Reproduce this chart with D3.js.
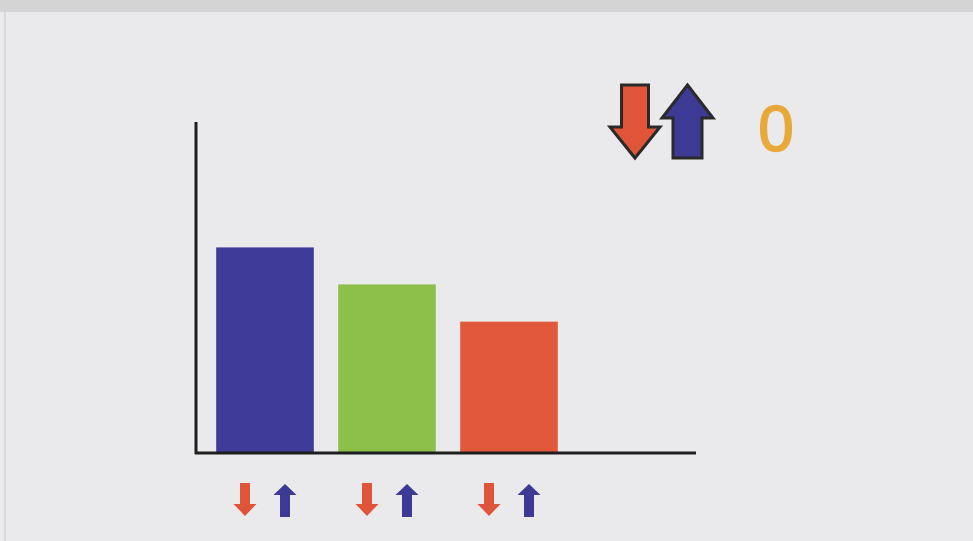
<!DOCTYPE html>
<html lang="en">
<head>
<meta charset="utf-8">
<title>Bars with arrows</title>
<script src="https://d3js.org/d3.v7.min.js"></script>
<style>
  html, body { margin: 0; padding: 0; background: #eaeaed; }
  svg { display: block; }
</style>
</head>
<body>
<svg id="chart" width="973" height="541"></svg>
<script>
// data
var categories = ["A", "B", "C"];
var values = [62, 50.8, 39.5];
var barColors = ["#3f3b98", "#8dc04b", "#e1593a"];
var legendText = "0";

var svg = d3.select("#chart");
var W = 973, H = 541;

// paper background with scanned top edge
svg.append("rect").attr("width", W).attr("height", H).attr("fill", "#eaeaed");
svg.append("rect").attr("width", W).attr("height", 12).attr("fill", "#d4d4d4");
svg.append("line").attr("x1", 5).attr("x2", 5).attr("y1", 12).attr("y2", H)
  .attr("stroke", "#d8d8da").attr("stroke-width", 2);

var x = d3.scaleBand()
  .domain(categories)
  .range([204, 570])
  .paddingInner(0.2)
  .paddingOuter(0.1);

var y = d3.scaleLinear()
  .domain([0, 100])
  .range([452, 122]);

// bars
svg.selectAll("rect.bar")
  .data(values)
  .enter().append("rect")
    .attr("class", "bar")
    .attr("x", function(d, i) { return x(categories[i]); })
    .attr("y", function(d) { return y(d); })
    .attr("width", x.bandwidth())
    .attr("height", function(d) { return y(0) - y(d); })
    .attr("fill", function(d, i) { return barColors[i]; });

// axes: plain lines, no ticks
var axisX0 = 196;
svg.append("line")
  .attr("x1", axisX0).attr("x2", axisX0)
  .attr("y1", y(100)).attr("y2", y(0) + 2)
  .attr("stroke", "#1e1e1e").attr("stroke-width", 3);
svg.append("line")
  .attr("x1", axisX0 - 1).attr("x2", 696)
  .attr("y1", y(0) + 1).attr("y2", y(0) + 1)
  .attr("stroke", "#1e1e1e").attr("stroke-width", 3);

// arrow shape: cx, tip y, tail y, head width, shaft width, head length
function arrow(cx, tip, tail, hw, sw, hl) {
  var dir = tail > tip ? 1 : -1;  // 1 = pointing up
  var hb = tip + dir * hl;
  var p = d3.path();
  p.moveTo(cx, tip);
  p.lineTo(cx + hw / 2, hb);
  p.lineTo(cx + sw / 2, hb);
  p.lineTo(cx + sw / 2, tail);
  p.lineTo(cx - sw / 2, tail);
  p.lineTo(cx - sw / 2, hb);
  p.lineTo(cx - hw / 2, hb);
  p.closePath();
  return p.toString();
}

// small arrows under each bar
var arrowRed = "#e0553a", arrowBlue = "#3c3a95";
var under = svg.append("g");
categories.forEach(function(c) {
  var cx = x(c) + x.bandwidth() / 2;
  under.append("path")
    .attr("d", arrow(cx - 20, 516, 483, 23, 10, 12))
    .attr("fill", arrowRed);
  under.append("path")
    .attr("d", arrow(cx + 20, 484, 517, 23, 10, 11))
    .attr("fill", arrowBlue);
});

// big arrows top right
var legend = svg.append("g");
legend.append("path")
  .attr("d", arrow(635, 158, 85, 50, 27, 31))
  .attr("fill", arrowRed)
  .attr("stroke", "#2a2a2a").attr("stroke-width", 3).attr("stroke-linejoin", "miter");
legend.append("path")
  .attr("d", arrow(687.5, 85, 158, 51, 29, 33))
  .attr("fill", arrowBlue)
  .attr("stroke", "#2a2a2a").attr("stroke-width", 3).attr("stroke-linejoin", "miter");

legend.append("text")
  .attr("x", 776)
  .attr("y", 151)
  .attr("text-anchor", "middle")
  .attr("font-family", "Liberation Sans, Arial, sans-serif")
  .attr("font-size", 64)
  .attr("fill", "#e8a93a")
  .attr("stroke", "#e8a93a")
  .attr("stroke-width", 1.5)
  .text(legendText);
</script>
</body>
</html>
